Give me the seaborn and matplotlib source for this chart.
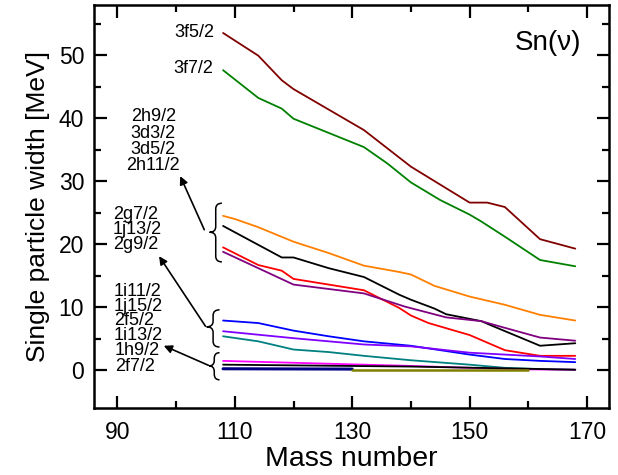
import numpy as np
import pandas as pd
import matplotlib
matplotlib.use("Agg")
import matplotlib.pyplot as plt
from matplotlib.path import Path
from matplotlib.patches import PathPatch
import seaborn as sns

# ---- data ----
A_3f52 = [108, 114, 118, 120, 132, 140, 150, 153, 156, 162, 168]
W_3f52 = [53.5, 49.9, 46.0, 44.6, 38.1, 32.3, 26.6, 26.6, 25.9, 20.8, 19.3]

A_3f72 = [108, 114, 118, 120, 132, 136, 140, 145, 150, 152, 156, 162, 168]
W_3f72 = [47.6, 43.2, 41.5, 39.9, 35.4, 32.8, 29.8, 27.0, 24.7, 23.6, 21.2, 17.5, 16.5]

A_2h92 = [108, 110, 114, 120, 126, 132, 138, 140, 144, 150, 156, 162, 168]
W_2h92 = [24.5, 24.0, 22.7, 20.4, 18.6, 16.6, 15.6, 15.2, 13.4, 11.7, 10.4, 8.8, 7.9]

A_3d32 = [108, 118, 120, 126, 132, 138, 140, 144, 146, 152, 154, 162, 168]
W_3d32 = [22.9, 17.9, 17.9, 16.2, 14.8, 12.0, 11.2, 9.8, 8.9, 7.8, 7.0, 3.9, 4.3]

A_3d52 = [108, 114, 118, 120, 132, 138, 140, 143, 150, 156, 162, 168]
W_3d52 = [19.5, 16.7, 15.8, 14.5, 12.7, 9.9, 8.7, 7.5, 5.6, 3.2, 2.3, 2.3]

A_2h112 = [108, 120, 132, 139, 146, 152, 155, 162, 168]
W_2h112 = [18.8, 13.6, 12.2, 10.1, 8.4, 7.8, 7.0, 5.2, 4.7]

A_2g72 = [108, 114, 120, 126, 132, 140, 150, 156, 162, 168]
W_2g72 = [7.9, 7.5, 6.3, 5.4, 4.6, 3.9, 2.5, 1.8, 1.5, 1.3]

A_1j132 = [108, 120, 132, 140, 150, 162, 168]
W_1j132 = [6.2, 5.1, 4.1, 3.8, 2.8, 2.2, 1.8]

A_2g92 = [108, 114, 120, 126, 132, 140, 150, 156, 162, 168]
W_2g92 = [5.4, 4.6, 3.3, 2.9, 2.3, 1.6, 0.9, 0.4, 0.2, 0.1]

A_1i112 = [108, 120, 132, 140, 150, 160, 168]
W_1i112 = [1.5, 1.2, 0.9, 0.7, 0.4, 0.15, 0.1]

A_1j152 = [108, 140, 168]
W_1j152 = [0.9, 0.6, 0.1]

A_2f52 = [108, 130]
W_2f52 = [0.25, 0.2]

A_1i132 = [130, 160]
W_1i132 = [0.05, 0.05]

series = [
    ("3f5/2", A_3f52, W_3f52, "#800000", 1.3),
    ("3f7/2", A_3f72, W_3f72, "#008000", 1.3),
    ("2h9/2", A_2h92, W_2h92, "#FF8000", 1.3),
    ("3d3/2", A_3d32, W_3d32, "#000000", 1.3),
    ("3d5/2", A_3d52, W_3d52, "#FF0000", 1.3),
    ("2h11/2", A_2h112, W_2h112, "#800080", 1.3),
    ("2g7/2", A_2g72, W_2g72, "#0000FF", 1.3),
    ("1j13/2", A_1j132, W_1j132, "#8000FF", 1.3),
    ("2g9/2", A_2g92, W_2g92, "#008080", 1.3),
    ("1i11/2", A_1i112, W_1i112, "#FF00FF", 1.3),
    ("1j15/2", A_1j152, W_1j152, "#000000", 1.3),
    ("2f5/2", A_2f52, W_2f52, "#000080", 2.2),
    ("1i13/2", A_1i132, W_1i132, "#808000", 1.8),
]

x_ticks = [90, 110, 130, 150, 170]
y_ticks = [0, 10, 20, 30, 40, 50]

# ---- style ----
sns.set_theme(style="ticks")
plt.rcParams["font.family"] = ["Liberation Sans", "DejaVu Sans"]
plt.rcParams["text.color"] = "black"
plt.rcParams["axes.labelcolor"] = "black"
plt.rcParams["xtick.color"] = "black"
plt.rcParams["ytick.color"] = "black"

fig = plt.figure(figsize=(6.18, 4.75), dpi=100)
ax = fig.add_axes([0.152, 0.142, 0.833, 0.847])

for name, a, w, col, lw in series:
    df = pd.DataFrame({"A": a, "W": w})
    sns.lineplot(data=df, x="A", y="W", ax=ax, color=col, linewidth=lw,
                 estimator=None, sort=False, legend=False)

ax.set_xlim(86, 173.7)
ax.set_ylim(-5.9, 57.9)
ax.set_xticks(x_ticks)
ax.set_yticks(y_ticks)
ax.set_xticks([100, 120, 140, 160], minor=True)
ax.set_yticks([5, 15, 25, 35, 45, 55], minor=True)
ax.tick_params(axis="both", which="major", direction="in", length=9, width=1.6,
               top=True, right=True, labelsize=16.5, pad=7, colors="black")
ax.tick_params(axis="both", which="minor", direction="in", length=5, width=1.6,
               top=True, right=True, colors="black")
ax.tick_params(axis="x", which="major", pad=10)
for s in ax.spines.values():
    s.set_linewidth(1.8)
    s.set_color("black")

ax.set_xlabel("Mass number", fontsize=20.5, labelpad=1, color="black")
ax.set_ylabel("Single particle width [MeV]", fontsize=19, labelpad=6, color="black")

# ---- text labels ----
fs = 13
ax.text(106.5, 53.6, "3f5/2", ha="right", va="center", fontsize=fs)
ax.text(106.3, 47.9, "3f7/2", ha="right", va="center", fontsize=fs)
ax.text(169.0, 51.9, "Sn(\u03bd)", ha="right", va="center", fontsize=20)

ax.text(96.1, 36.3, "2h9/2\n3d3/2\n3d5/2\n2h11/2", ha="center", va="center",
        fontsize=fs, linespacing=0.95)
ax.text(89.2, 22.3, "2g7/2\n1j13/2\n2g9/2", ha="left", va="center",
        fontsize=fs, linespacing=0.84)
ax.text(89.4, 9.0, "1i11/2\n1j15/2\n2f5/2\n1i13/2", ha="left", va="center",
        fontsize=fs, linespacing=0.81)
ax.text(89.6, 1.9, "1h9/2\n2f7/2", ha="left", va="center",
        fontsize=fs, linespacing=0.97)


def brace(ax, x_tip, x_end, y0, y1, ym):
    xm = (x_tip + x_end) / 2
    r = 0.9
    verts = [
        (x_end, y1), (xm, y1), (xm, y1 - r),
        (xm, ym + r),
        (xm, ym), (x_tip, ym), (x_tip, ym),
        (xm, ym), (xm, ym - r),
        (xm, y0 + r),
        (xm, y0), (x_end, y0),
    ]
    codes = [Path.MOVETO, Path.CURVE3, Path.CURVE3,
             Path.LINETO,
             Path.CURVE3, Path.CURVE3, Path.MOVETO,
             Path.CURVE3, Path.CURVE3,
             Path.LINETO,
             Path.CURVE3, Path.CURVE3]
    ax.add_patch(PathPatch(Path(verts, codes), fill=False, lw=1.1, color="black"))


brace(ax, 105.7, 107.8, 17.2, 26.5, 21.9)
brace(ax, 105.2, 107.4, 3.7, 9.6, 6.9)
brace(ax, 105.6, 107.4, -1.5, 2.8, 0.7)

arrow = dict(arrowstyle="-|>", color="black", lw=1.2, mutation_scale=12,
             shrinkA=0, shrinkB=0)
ax.annotate("", xy=(100.7, 30.8), xytext=(104.8, 22.3), arrowprops=arrow)
ax.annotate("", xy=(97.1, 18.1), xytext=(105.0, 7.0), arrowprops=arrow)
ax.annotate("", xy=(97.9, 3.9), xytext=(105.5, 0.8), arrowprops=arrow)

fig.savefig("out.png", dpi=100)
